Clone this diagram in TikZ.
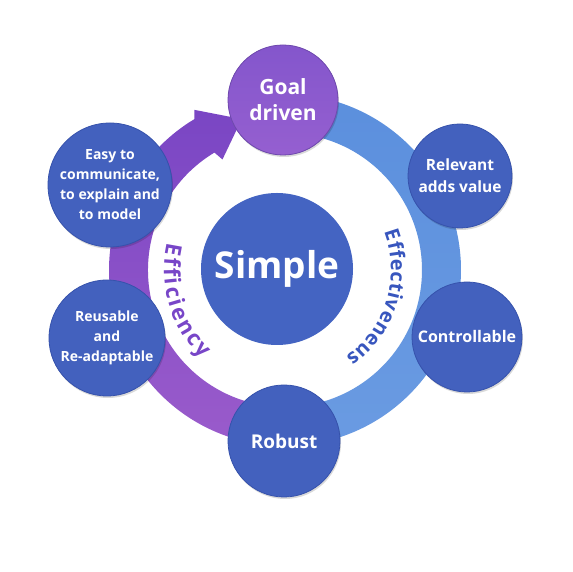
\documentclass[tikz,border=0pt]{standalone}
\usepackage{fontspec}
\setmainfont{Open Sans}
\usetikzlibrary{decorations.text,shadows}
\definecolor{cblue}{HTML}{4361BE}
\definecolor{cborder}{HTML}{3652AC}
\definecolor{csimple}{HTML}{4464C2}
\definecolor{gTop}{HTML}{8456CC}
\definecolor{gBot}{HTML}{955FD0}
\definecolor{ringblue}{HTML}{5B8FDD}
\definecolor{ringblueB}{HTML}{6A9BE2}
\definecolor{pTop}{HTML}{7A46C4}
\definecolor{pBot}{HTML}{9A5BCB}
\definecolor{effc}{HTML}{7846C8}
\definecolor{effv}{HTML}{3856BE}
\tikzset{
  bub/.style={circle, inner sep=0pt, draw=cborder, line width=0.8pt, fill=cblue,
    text=white, align=center, font=\bfseries,
    drop shadow={shadow xshift=1pt, shadow yshift=-2pt, opacity=0.15, fill=black}},
}
\begin{document}
\begin{tikzpicture}[x=1pt,y=1pt]
\fill[white] (0,0) rectangle (572,572);
\useasboundingbox (0,0) rectangle (572,572);
\coordinate (c) at (285,302);
\begin{scope}[shift={(c)}]
  % blue ring (right)
  \shade[top color=ringblue, bottom color=ringblueB]
    (95:176pt) arc[start angle=95, end angle=-95, radius=176pt]
    -- (-95:137pt) arc[start angle=-95, end angle=95, radius=137pt] -- cycle;
  % purple ring (left) with arrow head
  \shade[top color=pTop, bottom color=pBot]
    (265:176pt) arc[start angle=265, end angle=121, radius=176pt]
    -- (119.5:184pt) -- (106:157pt) -- (119.5:127pt) -- (121:137pt)
    arc[start angle=121, end angle=265, radius=137pt] -- cycle;
  % ring labels
  \path[decorate, decoration={text along path,
      text={|\bfseries\fontsize{22}{22}\selectfont|Efficiency},
      text color=effc, text align={fit to path}}]
    (167:121pt) arc[start angle=167, end angle=227, radius=121pt];
  \path[decorate, decoration={text along path,
      text={|\bfseries\fontsize{20}{20}\selectfont|Effectiveneus},
      text color=effv, text align={fit to path}}]
    (21:106pt) arc[start angle=21, end angle=-55, radius=106pt];
\end{scope}
% centre
\node[circle, inner sep=0pt, minimum size=152pt, fill=csimple, text=white,
  font=\bfseries\fontsize{37}{37}\selectfont] (simple) at (277,303) {Simple};
% outer circles
\node[bub, minimum size=110pt, draw=gTop!85!black, top color=gTop, bottom color=gBot,
  font=\bfseries\fontsize{21}{26}\selectfont] (goal) at (283,472) {Goal\\driven};
\node[bub, minimum size=104pt, font=\bfseries\fontsize{15.5}{22}\selectfont]
  (relevant) at (460,396) {Relevant\\adds value};
\node[bub, minimum size=110pt, font=\bfseries\fontsize{16}{20}\selectfont]
  (control) at (467,235) {Controllable};
\node[bub, minimum size=112pt, font=\bfseries\fontsize{19}{22}\selectfont]
  (robust) at (284,131) {Robust};
\node[bub, minimum size=116pt, font=\bfseries\fontsize{14}{20}\selectfont]
  (reuse) at (107,234) {Reusable\\and\\Re-adaptable};
\node[bub, minimum size=124pt, font=\bfseries\fontsize{14}{20}\selectfont]
  (easy) at (110,387) {Easy to\\communicate,\\to explain and\\to model};
\end{tikzpicture}
\end{document}
